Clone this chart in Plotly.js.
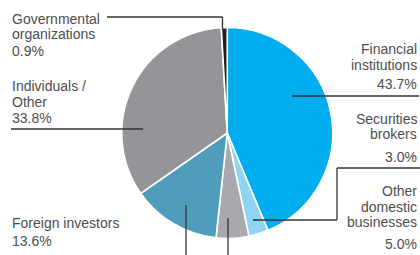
<!DOCTYPE html>
<html>
<head>
<meta charset="utf-8">
<script src="https://cdn.plot.ly/plotly-3.0.1.min.js"></script>
<style>html,body{margin:0;padding:0;background:#fff;}#chart{width:420px;height:255px;}</style>
</head>
<body>
<div id="chart"></div>
<script>
// Data
const categories = ["Financial institutions", "Securities brokers", "Other domestic businesses", "Foreign investors", "Individuals / Other", "Governmental organizations"];
const shares = [43.7, 3.0, 5.0, 13.6, 33.8, 0.9];
const sliceColors = ["#00aeef", "#8fd4f3", "#a7a9ac", "#4f9dbb", "#939598", "#231f20"];
const labelLines = [
  ["Financial", "institutions", "43.7%"],
  ["Securities", "brokers", "3.0%"],
  ["Other", "domestic", "businesses", "5.0%"],
  ["Foreign investors", "13.6%"],
  ["Individuals /", "Other", "33.8%"],
  ["Governmental", "organizations", "0.9%"]
];

const W = 420, H = 255;
const px = x => x / W;
const py = y => 1 - y / H;
const FONT = {family: "'Liberation Sans', Arial, sans-serif", size: 14, color: "#4d4d4f"};
const DESC = 3.0;

// label layout (pixel positions): [x, anchor, baselines]
const labelPos = [
  [418, "right", [55, 71, 90]],
  [418, "right", [125, 140, 163]],
  [418, "right", [197, 213, 228, 250]],
  [11, "left", [229, 247]],
  [11, "left", [92, 108, 124]],
  [11, "left", [25, 40, 57]]
];

const annotations = [];
labelLines.forEach((lines, i) => {
  const [x, anchor, bases] = labelPos[i];
  lines.forEach((t, j) => {
    annotations.push({
      text: t, xref: "paper", yref: "paper",
      x: px(x), y: py(bases[j] + DESC),
      xanchor: anchor, yanchor: "bottom",
      showarrow: false, font: FONT, borderpad: 0
    });
  });
});

const lineStyle = {color: "#333333", width: 1.3};
const seg = (x0, y0, x1, y1) => ({type: "line", xref: "paper", yref: "paper",
  x0: px(x0), y0: py(y0), x1: px(x1), y1: py(y1), line: lineStyle});
const shapes = [
  seg(292, 96, 419, 96),
  seg(107, 17, 222.5, 17), seg(222.5, 17, 222.5, 29),
  seg(11, 129, 143, 129),
  seg(337, 168, 420, 168), seg(337, 168, 337, 220), seg(337, 220, 253, 220),
  seg(186, 205, 186, 255),
  seg(228, 218, 228, 255)
];

const data = [{
  type: "pie",
  labels: categories,
  values: shares,
  marker: {colors: sliceColors, line: {color: "#ffffff", width: 1.6}},
  sort: false,
  direction: "clockwise",
  rotation: 0,
  textinfo: "none",
  hoverinfo: "none",
  showlegend: false,
  domain: {x: [px(121.5), px(333)], y: [py(238.5), py(27.5)]}
}];

const layout = {
  width: W, height: H,
  margin: {l: 0, r: 0, t: 0, b: 0},
  paper_bgcolor: "#ffffff",
  showlegend: false,
  annotations: annotations,
  shapes: shapes
};

Plotly.newPlot("chart", data, layout, {staticPlot: true, displayModeBar: false});
</script>
</body>
</html>
